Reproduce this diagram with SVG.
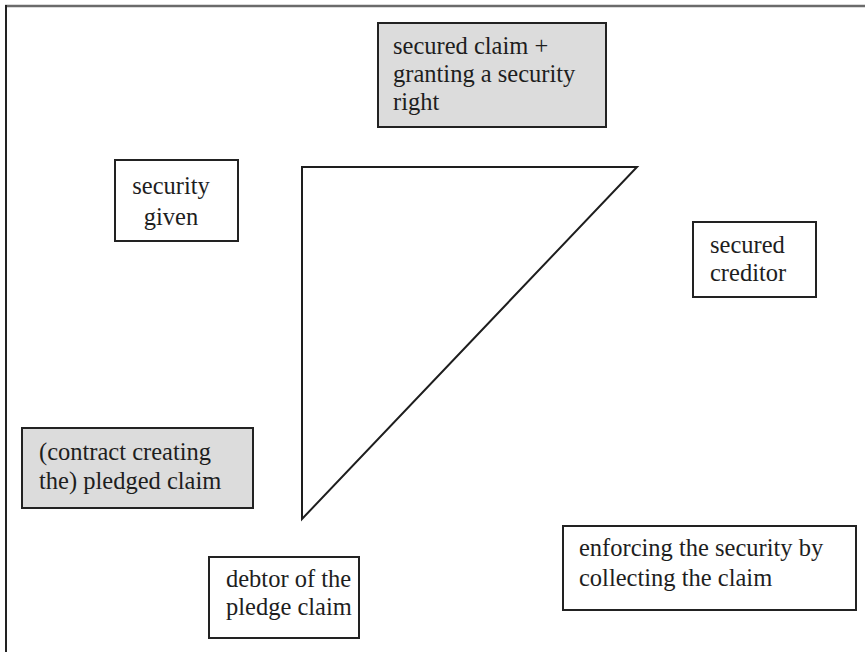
<svg xmlns="http://www.w3.org/2000/svg" width="865" height="652" viewBox="0 0 865 652">
  <style>
    .box { fill: #ffffff; stroke: #222222; stroke-width: 2; }
    .shaded { fill: #dcdcdc; }
    .lbl { font-size: 24.5px; fill: #1e1e1e; }
    .edge { fill: none; stroke: #1e1e1e; stroke-width: 2; stroke-linejoin: miter; }
  </style>
  <rect width="865" height="652" fill="#ffffff"/>

  <!-- frame -->
  <line x1="5" y1="6" x2="865" y2="6" stroke="#6b6b6b" stroke-width="2.5"/>
  <line x1="6" y1="5" x2="6" y2="652" stroke="#222222" stroke-width="2"/>

  <!-- connectors: the triangle linking the parties -->
  <g id="connectors">
    <path class="edge" d="M302,167 L637,167 L302,519 Z"/>
  </g>

  <g font-family="Liberation Serif, Times New Roman, DejaVu Serif, serif">
    <g id="secured-claim">
      <rect class="box shaded" x="378" y="23" width="228" height="104"/>
      <text class="lbl"><tspan x="393" y="54">secured claim +</tspan><tspan x="393" y="82">granting a security</tspan><tspan x="393" y="110">right</tspan></text>
    </g>

    <g id="security-given">
      <rect class="box" x="115" y="160" width="123" height="81"/>
      <text class="lbl" text-anchor="middle"><tspan x="171" y="194">security</tspan><tspan x="171" y="225">given</tspan></text>
    </g>

    <g id="secured-creditor">
      <rect class="box" x="693" y="222" width="123" height="75"/>
      <text class="lbl"><tspan x="710" y="253">secured</tspan><tspan x="710" y="281">creditor</tspan></text>
    </g>

    <g id="pledged-claim">
      <rect class="box shaded" x="22" y="428" width="231" height="80"/>
      <text class="lbl"><tspan x="39" y="460">(contract creating</tspan><tspan x="39" y="489">the) pledged claim</tspan></text>
    </g>

    <g id="debtor">
      <rect class="box" x="209" y="557" width="150" height="81"/>
      <text class="lbl"><tspan x="226" y="587">debtor of the</tspan><tspan x="226" y="615">pledge claim</tspan></text>
    </g>

    <g id="enforcing">
      <rect class="box" x="563" y="526" width="293" height="84"/>
      <text class="lbl"><tspan x="579" y="556">enforcing the security by</tspan><tspan x="579" y="586">collecting the claim</tspan></text>
    </g>
  </g>
</svg>
